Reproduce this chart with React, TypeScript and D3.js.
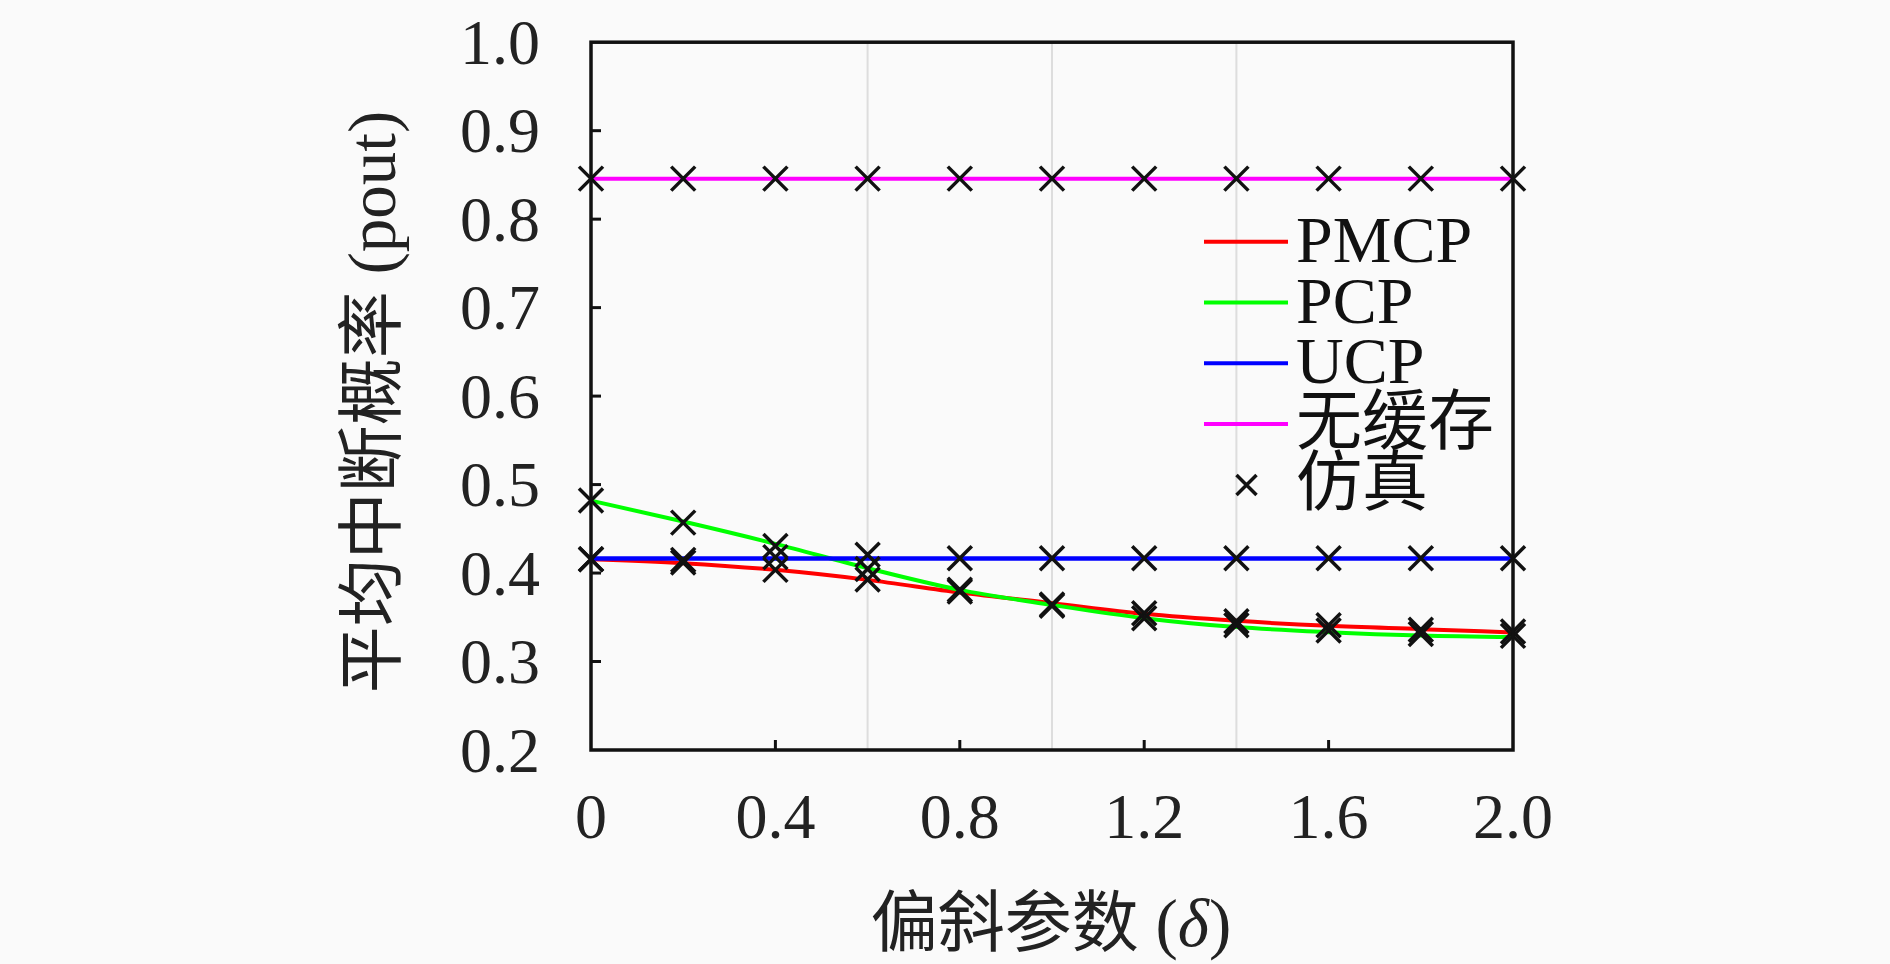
import React from "react";
import * as d3 from "d3";

const xValues = [0, 0.2, 0.4, 0.6, 0.8, 1.0, 1.2, 1.4, 1.6, 1.8, 2.0];
const pmcp = [0.4157, 0.4112, 0.4036, 0.3923, 0.378, 0.366, 0.3539, 0.346, 0.3403, 0.3366, 0.3328];
const pcp = [0.4819, 0.4582, 0.433, 0.4055, 0.381, 0.364, 0.349, 0.3389, 0.3332, 0.3294, 0.3276];
const ucp = [0.4165, 0.4165, 0.4165, 0.4165, 0.4165, 0.4165, 0.4165, 0.4165, 0.4165, 0.4165, 0.4165];
const noCache = [0.8458, 0.8458, 0.8458, 0.8458, 0.8458, 0.8458, 0.8458, 0.8458, 0.8458, 0.8458, 0.8458];

const simPmcp = [0.4157, 0.412, 0.4036, 0.3926, 0.379, 0.3645, 0.3545, 0.3455, 0.341, 0.336, 0.334];
const simPcp = [0.482, 0.457, 0.4307, 0.4045, 0.381, 0.363, 0.349, 0.341, 0.335, 0.331, 0.329];
const simUcp = [0.4157, 0.4149, 0.418, 0.4206, 0.4168, 0.4168, 0.4168, 0.4168, 0.4168, 0.4168, 0.4168];
const simNoCache = [0.8458, 0.8458, 0.8458, 0.8458, 0.8458, 0.8458, 0.8458, 0.8458, 0.8458, 0.8458, 0.8458];

const yTicks = [0.2, 0.3, 0.4, 0.5, 0.6, 0.7, 0.8, 0.9, 1.0];
const xTickLabels = [0, 0.4, 0.8, 1.2, 1.6, 2.0];
const xInnerTicks = [0.4, 0.8, 1.2, 1.6];
const yInnerTicks = [0.3, 0.4, 0.5, 0.6, 0.7, 0.8, 0.9];
const gridX = [0.6, 1.0, 1.4];

const seriesNames = ["PMCP", "PCP", "UCP", "无缓存"];
const seriesColors = ["#ff0000", "#00ff00", "#0000ff", "#ff00ff"];
const simLabel = "仿真";
const xTitle = "偏斜参数 (";
const yTitle = "平均中断概率 (pout)";

const W = 1890;
const H = 964;
const left = 591;
const right = 1513;
const top = 42.2;
const bottom = 750;

const FONT = "'Liberation Serif', 'Noto Sans CJK SC', serif";

export default function App() {
  const x = d3.scaleLinear().domain([0, 2]).range([left, right]);
  const y = d3.scaleLinear().domain([0.2, 1.0]).range([bottom, top]);
  const line = d3
    .line<number>()
    .x((_, i) => x(xValues[i]))
    .y((d) => y(d))
    .curve(d3.curveMonotoneX);

  const curves = [pmcp, pcp, ucp, noCache];
  const sims = [simPmcp, simPcp, simUcp, simNoCache];
  const ms = 12;

  const cross = (cx: number, cy: number, s: number, key: string, sw = 3.5) => (
    <path
      key={key}
      d={`M${cx - s},${cy - s}L${cx + s},${cy + s}M${cx - s},${cy + s}L${cx + s},${cy - s}`}
      stroke="#111"
      strokeWidth={sw}
      fill="none"
    />
  );

  const legendRows = [241.7, 302.5, 363.3, 424.1, 484.9];

  return (
    <svg
      width={W}
      height={H}
      style={{ position: "absolute", left: 0, top: 0, background: "#fafafa" }}
    >
      <rect x={0} y={0} width={W} height={H} fill="#fafafa" />
      {gridX.map((g) => (
        <line key={g} x1={x(g)} x2={x(g)} y1={top} y2={bottom} stroke="#dddddd" strokeWidth={2} />
      ))}
      {yInnerTicks.map((t) => (
        <line key={"yt" + t} x1={left} x2={left + 10} y1={y(t)} y2={y(t)} stroke="#111" strokeWidth={3} />
      ))}
      {xInnerTicks.map((t) => (
        <line key={"xt" + t} x1={x(t)} x2={x(t)} y1={bottom} y2={bottom - 10} stroke="#111" strokeWidth={3} />
      ))}
      {curves.map((c, i) => (
        <path key={"c" + i} d={line(c) || ""} stroke={seriesColors[i]} strokeWidth={i === 2 ? 4.5 : 4} fill="none" />
      ))}
      {sims.map((s, i) => s.map((v, j) => cross(x(xValues[j]), y(v), ms, `m${i}-${j}`)))}
      <rect x={left} y={top} width={right - left} height={bottom - top} fill="none" stroke="#111" strokeWidth={3.5} />
      {yTicks.map((t) => (
        <text
          key={"yl" + t}
          x={540}
          y={y(t)}
          textAnchor="end"
          dominantBaseline="central"
          fontFamily={FONT}
          fontSize={64}
          fill="#222"
        >
          {t.toFixed(1)}
        </text>
      ))}
      {xTickLabels.map((t) => (
        <text
          key={"xl" + t}
          x={x(t)}
          y={838}
          textAnchor="middle"
          fontFamily={FONT}
          fontSize={64}
          fill="#222"
        >
          {t === 0 ? "0" : t.toFixed(1)}
        </text>
      ))}
      <text x={1051} y={946} textAnchor="middle" fontFamily={FONT} fontSize={67} fill="#222">
        {xTitle}
        <tspan fontStyle="italic">δ</tspan>)
      </text>
      <text
        transform={`translate(372,402) rotate(-90)`}
        textAnchor="middle"
        dominantBaseline="central"
        fontFamily={FONT}
        fontSize={67}
        fill="#222"
      >
        {yTitle}
      </text>
      {seriesNames.map((n, i) => (
        <g key={"lg" + i}>
          <line x1={1204} x2={1288} y1={legendRows[i]} y2={legendRows[i]} stroke={seriesColors[i]} strokeWidth={4} />
          <text x={1296} y={legendRows[i] + 20} fontFamily={FONT} fontSize={66} fill="#111">
            {n}
          </text>
        </g>
      ))}
      {cross(1246.5, legendRows[4], 10, "lgm", 3.5)}
      <text x={1296} y={legendRows[4] + 20} fontFamily={FONT} fontSize={66} fill="#111">
        {simLabel}
      </text>
    </svg>
  );
}
